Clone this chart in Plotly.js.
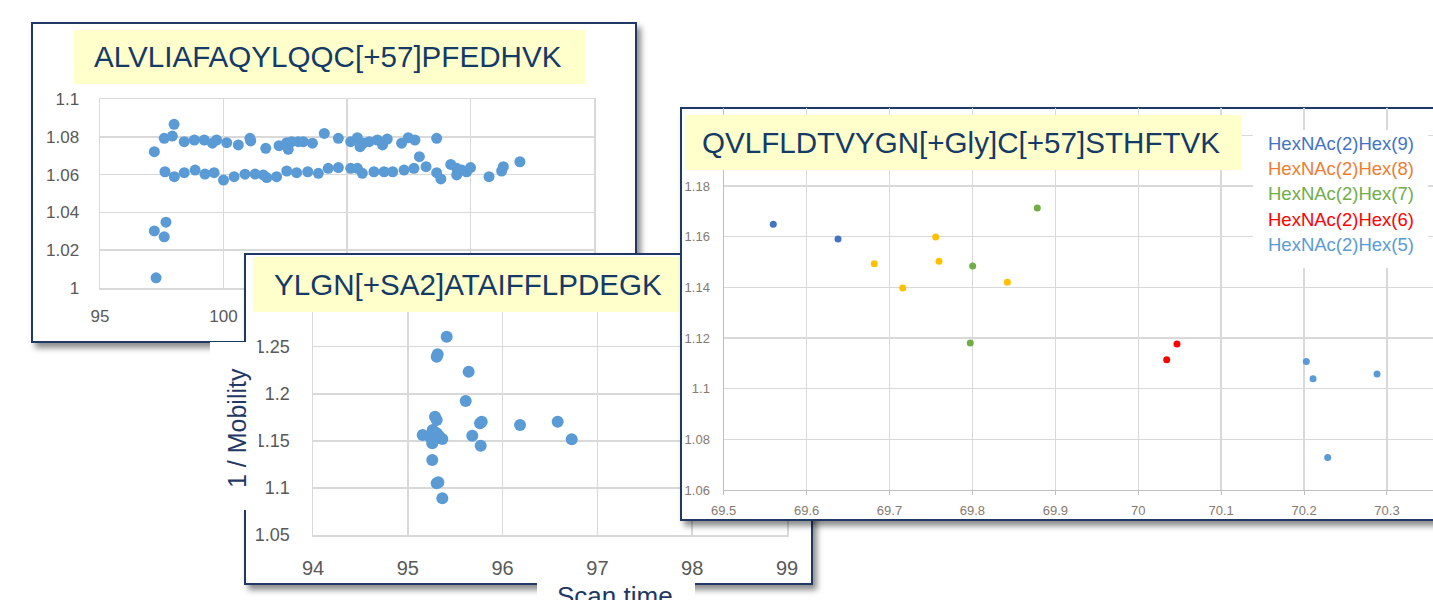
<!DOCTYPE html>
<html>
<head>
<meta charset="utf-8">
<script src="https://cdn.plot.ly/plotly-3.0.1.min.js"></script>
<style>
html,body{margin:0;padding:0;background:#fff;overflow:hidden;width:1433px;height:600px;position:relative;}
.layer{position:absolute;left:0;top:0;width:1433px;height:600px;pointer-events:none;}
.box{position:absolute;background:#fff;border:2px solid #1f3864;box-sizing:border-box;box-shadow:4px 5px 6px rgba(0,0,0,0.45);}
</style>
</head>
<body>
<div class="box" style="left:31px;top:22px;width:606px;height:321px"></div>
<div class="layer" id="plot1"></div>
<div class="box" style="left:244px;top:253px;width:569px;height:332px"></div>
<div class="layer" id="plot2"></div>
<div class="box" style="left:680px;top:107px;width:800px;height:414px"></div>
<div class="layer" id="plot3"></div>
<script>
// ---------------- DATA ----------------
// Panel 1: ALVLIAFAQYLQQC[+57]PFEDHVK
var title1 = "ALVLIAFAQYLQQC[+57]PFEDHVK";
var p1ScanTime = [
  97.2, 97.6, 97.93, 98.0, 98.41, 98.82, 99.22, 99.55, 99.72, 100.13,
  100.6, 101.07, 101.1, 101.71, 102.25, 102.56, 102.62, 102.76, 103.03, 103.23,
  103.6, 104.08, 104.65, 105.15, 105.42, 105.53, 105.66, 105.9, 106.23, 106.44,
  106.63, 107.21, 107.48, 107.75, 108.63, 107.93,
  97.63, 98.01, 98.41, 98.85, 99.25, 99.62, 100.0, 100.43, 100.87, 101.28,
  101.61, 101.75, 102.15, 102.56, 102.96, 103.41, 103.84, 104.24, 104.65, 105.15,
  105.42, 105.62, 106.09, 106.5, 106.85, 107.31, 107.71, 108.2, 108.63, 108.8,
  109.2, 109.44, 109.44, 109.64, 109.84, 110.0, 110.75, 111.26, 111.33, 112.0,
  97.2, 97.67, 97.6, 97.27
];
var p1Mobility = [
  1.0721, 1.0792, 1.0804, 1.0866, 1.0774, 1.0783, 1.0783, 1.0766, 1.0783, 1.0769,
  1.0757, 1.0792, 1.0778, 1.0739, 1.0753, 1.0769, 1.0734, 1.0774, 1.0774, 1.0774,
  1.0766, 1.0818, 1.0792, 1.0774, 1.0795, 1.0748, 1.0766, 1.0774, 1.0783, 1.0757,
  1.0788, 1.0766, 1.0795, 1.0783, 1.0792, 1.0695,
  1.0615, 1.0589, 1.0610, 1.0624, 1.0603, 1.0610, 1.0571, 1.0589, 1.0602, 1.0603,
  1.0598, 1.0584, 1.0589, 1.0619, 1.0610, 1.0615, 1.0607, 1.0633, 1.0637, 1.0633,
  1.0633, 1.0607, 1.0615, 1.0615, 1.0615, 1.0624, 1.0633, 1.0642, 1.0610, 1.0577,
  1.0654, 1.0633, 1.0598, 1.0624, 1.0615, 1.0637, 1.0589, 1.0619, 1.0642, 1.0668,
  1.0302, 1.0348, 1.0271, 1.0054
];

// Panel 2: YLGN[+SA2]ATAIFFLPDEGK
var title2 = "YLGN[+SA2]ATAIFFLPDEGK";
var p2ScanTime = [
  95.41, 95.305, 95.315, 95.642, 95.611, 95.287, 95.305, 95.78, 95.762, 96.184,
  96.581, 96.729, 95.157, 95.263, 95.305, 95.364, 95.258, 95.68, 95.769, 95.258,
  95.322, 95.305, 95.364, 95.329, 95.234
];
var p2Mobility = [
  1.2606, 1.2393, 1.2419, 1.2234, 1.1923, 1.1756, 1.1721, 1.1703, 1.1686, 1.1668,
  1.1703, 1.1516, 1.1562, 1.1615, 1.1580, 1.1520, 1.1474, 1.1555, 1.1448, 1.1297,
  1.1060, 1.1049, 1.0890, 1.1551, 1.1541
];
var p2YTicks = [1.05, 1.1, 1.15, 1.2, 1.25];
var yTitle2 = "1 / Mobility";
var xTitle2 = "Scan time";

// Panel 3: QVLFLDTVYGN[+Gly]C[+57]STHFTVK
var title3 = "QVLFLDTVYGN[+Gly]C[+57]STHFTVK";
var seriesNames = ["HexNAc(2)Hex(9)", "HexNAc(2)Hex(8)", "HexNAc(2)Hex(7)", "HexNAc(2)Hex(6)", "HexNAc(2)Hex(5)"];
var hex9X = [69.5598, 69.6379];
var hex9Y = [1.1649, 1.1591];
var hex8X = [69.6816, 69.7159, 69.7557, 69.7597, 69.8421];
var hex8Y = [1.1493, 1.1397, 1.1599, 1.1503, 1.1420];
var hex7X = [69.8782, 69.8003, 69.7974];
var hex7Y = [1.1713, 1.1484, 1.1180];
var hex6X = [70.0467, 70.0343];
var hex6Y = [1.1176, 1.1114];
var hex5X = [70.2027, 70.2108, 70.2880, 70.2285];
var hex5Y = [1.1107, 1.1039, 1.1058, 1.0728];
var p3YTickVals = [1.06, 1.08, 1.1, 1.12, 1.14, 1.16, 1.18, 1.2];
var p3YTickText = ["1.06", "1.08", "1.1", "1.12", "1.14", "1.16", "1.18", ""];

// ---------------- STYLE / LAYOUT ----------------
var W = 1433, H = 600;
function px(x){ return x / W; }
function py(y){ return 1 - y / H; }
var FONT = "Liberation Sans, Arial, sans-serif";
var NAVY = "#1f3864";
var TITLE_COLOR = "#153a66";
var GRID = "#d9d9d9";
var TITLE_BG = "#ffffcc";
var cfg = {staticPlot: true, displayModeBar: false};

function baseLayout(){
  return {
    width: W, height: H,
    margin: {l: 0, r: 0, t: 0, b: 0, pad: 0},
    paper_bgcolor: "rgba(0,0,0,0)",
    plot_bgcolor: "rgba(0,0,0,0)",
    showlegend: false,
    font: {family: FONT}
  };
}
function axis(opts){
  var a = {
    showgrid: true, gridcolor: GRID, gridwidth: 1.5,
    zeroline: false, showline: true, mirror: true,
    linecolor: GRID, linewidth: 1.5, ticks: "",
    automargin: false, fixedrange: true
  };
  for (var k in opts) a[k] = opts[k];
  return a;
}
function titleBox(x0, y0, x1, y1){
  return {type: "rect", xref: "paper", yref: "paper", layer: "above",
    x0: px(x0), x1: px(x1), y0: py(y1), y1: py(y0),
    fillcolor: TITLE_BG, line: {width: 0}};
}
function whiteBox(x0, y0, x1, y1){
  return {type: "rect", xref: "paper", yref: "paper", layer: "above",
    x0: px(x0), x1: px(x1), y0: py(y1), y1: py(y0),
    fillcolor: "#ffffff", line: {width: 0}};
}
function label(text, x, y, size, color, extra){
  var a = {text: text, xref: "paper", yref: "paper", x: px(x), y: py(y),
    xanchor: "center", yanchor: "middle", showarrow: false,
    font: {family: FONT, size: size, color: color}};
  if (extra) for (var k in extra) a[k] = extra[k];
  return a;
}

// ---- Panel 1 ----
var L1 = baseLayout();
L1.xaxis = axis({domain: [px(100), px(594)], range: [95, 115], tick0: 95, dtick: 5,
  tickfont: {size: 17, color: "#595959"}, ticklabelstandoff: 12});
L1.yaxis = axis({domain: [py(288), py(99)], range: [1, 1.1], tick0: 1, dtick: 0.02,
  tickfont: {size: 17, color: "#595959"}, ticklabelstandoff: 16});
L1.shapes = [titleBox(74, 30, 586, 84)];
L1.annotations = [label(title1, 328, 57, 29.6, TITLE_COLOR)];
Plotly.newPlot("plot1", [{
  type: "scatter", mode: "markers", x: p1ScanTime, y: p1Mobility,
  marker: {color: "#5b9bd5", size: 11}
}], L1, cfg);

// ---- Panel 2 ----
var L2 = baseLayout();
L2.xaxis = axis({domain: [px(313), px(787)], range: [94, 99], tick0: 94, dtick: 1,
  tickfont: {size: 20, color: "#595959"}, ticklabelstandoff: 14});
L2.yaxis = axis({domain: [py(535), py(299.6)], range: [1.05, 1.3],
  tickmode: "array", tickvals: p2YTicks,
  tickfont: {size: 18, color: "#595959"}, ticklabelstandoff: 18});
L2.shapes = [
  titleBox(253, 257, 700, 312),
  whiteBox(210, 342, 259, 510),
  whiteBox(537, 577, 695, 600)
];
L2.annotations = [
  label(title2, 468, 284, 29.6, TITLE_COLOR),
  label(yTitle2, 237, 428, 25, NAVY, {textangle: -90}),
  label(xTitle2, 615, 596, 26, NAVY)
];
Plotly.newPlot("plot2", [{
  type: "scatter", mode: "markers", x: p2ScanTime, y: p2Mobility,
  marker: {color: "#5b9bd5", size: 12}
}], L2, cfg);

// ---- Panel 3 ----
var markerColors = ["#4472c4", "#ffc000", "#70ad47", "#ff0000", "#5b9bd5"];
var legendColors = ["#4472c4", "#ed7d31", "#70ad47", "#ff0000", "#5b9bd5"];
var seriesX = [hex9X, hex8X, hex7X, hex6X, hex5X];
var seriesY = [hex9Y, hex8Y, hex7Y, hex6Y, hex5Y];
var L3 = baseLayout();
L3.xaxis = axis({domain: [px(723.7), 1], range: [69.5, 70.3555], tick0: 69.5, dtick: 0.1,
  mirror: false, linecolor: "#bfbfbf", linewidth: 1.2,
  ticks: "outside", ticklen: 4, tickcolor: "#bfbfbf", tickwidth: 1,
  tickfont: {size: 13, color: "#857a6e"}, ticklabelstandoff: 4});
L3.yaxis = axis({domain: [py(490), py(108)], range: [1.06, 1.2108],
  tickmode: "array", tickvals: p3YTickVals, ticktext: p3YTickText,
  mirror: false, linecolor: "#bfbfbf", linewidth: 1.2,
  tickfont: {size: 13, color: "#857a6e"}, ticklabelstandoff: 10});
L3.shapes = [
  titleBox(685, 115, 1242, 170),
  whiteBox(1253, 130, 1428, 268)
];
L3.annotations = [label(title3, 961, 143, 29.6, TITLE_COLOR)];
var legendY = [143.3, 168.5, 193.7, 219, 244.3];
var traces3 = [];
for (var i = 0; i < seriesNames.length; i++) {
  traces3.push({
    type: "scatter", mode: "markers", name: seriesNames[i],
    x: seriesX[i], y: seriesY[i],
    marker: {color: markerColors[i], size: 7}
  });
  L3.annotations.push(label(seriesNames[i], 1266, legendY[i], 18.5, legendColors[i], {xanchor: "left"}));
}
Plotly.newPlot("plot3", traces3, L3, cfg);
</script>
</body>
</html>
